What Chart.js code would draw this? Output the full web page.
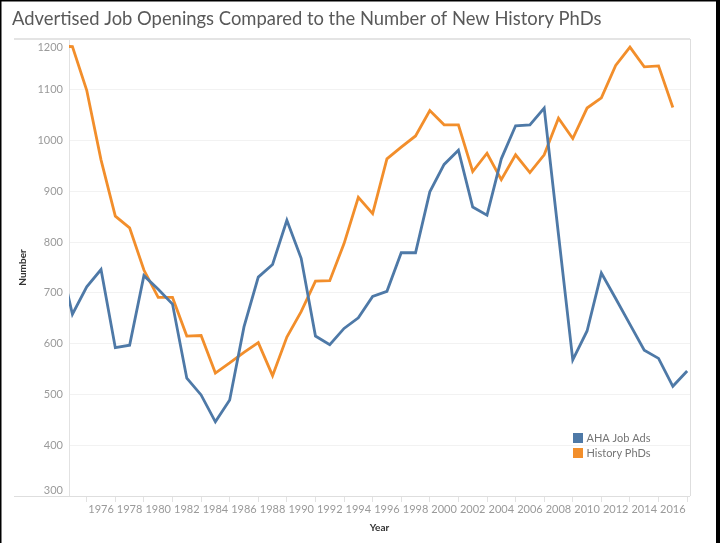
<!DOCTYPE html>
<html>
<head>
<meta charset="utf-8">
<script src="https://cdn.jsdelivr.net/npm/chart.js@4"></script>
<style>
  body { margin: 0; background: #fff; }
  canvas { display: block; }
</style>
</head>
<body>
<canvas id="myChart" width="720" height="543"></canvas>
<script>
const years = [1973, 1974, 1975, 1976, 1977, 1978, 1979, 1980, 1981, 1982,
  1983, 1984, 1985, 1986, 1987, 1988, 1989, 1990, 1991, 1992,
  1993, 1994, 1995, 1996, 1997, 1998, 1999, 2000, 2001, 2002,
  2003, 2004, 2005, 2006, 2007, 2008, 2009, 2010, 2011, 2012,
  2013, 2014, 2015, 2016, 2017];

const jobAds = [780, 658, 712, 746, 592, 597, 734, 707, 678, 532,
  499, 446, 489, 633, 731, 756, 843, 768, 615, 598,
  630, 651, 693, 703, 779, 779, 899, 953, 981, 869,
  853, 964, 1029, 1031, 1064, 815, 568, 625, 739, 689,
  638, 587, 571, 516, 546];

const phds = [1186, 1185, 1099, 962, 851, 828, 745, 691, 691, 615,
  616, 542, 562, 583, 602, 537, 613, 663, 723, 724,
  797, 888, 856, 964, 987, 1009, 1059, 1031, 1031, 939,
  975, 923, 972, 937, 972, 1044, 1004, 1064, 1084, 1148,
  1184, 1145, 1147, 1065, null];

const yearLabels = [1976, 1978, 1980, 1982, 1984, 1986, 1988, 1990, 1992, 1994,
  1996, 1998, 2000, 2002, 2004, 2006, 2008, 2010, 2012, 2014, 2016];
const yTicks = [300, 400, 500, 600, 700, 800, 900, 1000, 1100, 1200];

const FONT = 'Lato, "Open Sans", sans-serif';

// bingkai, label sumbu Y dan legenda digambar sendiri
const extras = {
  id: 'extras',
  beforeDatasetsDraw(chart) {
    const { ctx, chartArea: a } = chart;
    ctx.save();
    ctx.fillStyle = '#e4e4e4';
    ctx.fillRect(14, a.top - 1, a.right - 14, 2);     // garis atas
    ctx.fillStyle = '#dedede';
    ctx.fillRect(14, a.bottom, a.right - 14, 1);     // garis sumbu X
    ctx.fillRect(a.right, a.top, 1, a.bottom - a.top);
    ctx.restore();
  },
  afterDraw(chart) {
    const { ctx, chartArea: a } = chart;
    const y = chart.scales.y;
    ctx.save();
    ctx.font = '11px ' + FONT;
    ctx.fillStyle = '#9a9a9a';
    ctx.textAlign = 'right';
    ctx.textBaseline = 'middle';
    yTicks.forEach(v => {
      let py = y.getPixelForValue(v);
      py = Math.min(Math.max(py, a.top + 8), a.bottom - 6);
      ctx.fillText(String(v), a.left - 6, py);
    });

    // legenda
    const lx = a.right - 117, ly = a.bottom - 63;
    ctx.textAlign = 'left';
    chart.data.datasets.forEach((ds, i) => {
      const ry = ly + i * 15;
      ctx.fillStyle = ds.borderColor;
      ctx.fillRect(lx, ry, 10, 10);
      ctx.fillStyle = '#757575';
      ctx.fillText(ds.label, lx + 13.5, ry + 5.5);
    });

    // border hitam gambar
    ctx.fillStyle = '#000';
    ctx.fillRect(0, 0, 720, 1.5);
    ctx.fillRect(0, 0, 1.5, 543);
    ctx.fillRect(716, 0, 4, 543);
    ctx.restore();
  }
};

const ctx = document.getElementById('myChart').getContext('2d');

new Chart(ctx, {
  type: 'line',
  data: {
    datasets: [{
      label: 'AHA Job Ads',
      data: years.map((yr, i) => ({ x: yr, y: jobAds[i] })),
      borderColor: '#4e79a7',
      borderWidth: 2.8,
      pointRadius: 0,
      tension: 0
    }, {
      label: 'History PhDs',
      data: years.map((yr, i) => ({ x: yr, y: phds[i] })),
      borderColor: '#f28e2b',
      borderWidth: 2.8,
      pointRadius: 0,
      tension: 0
    }]
  },
  options: {
    responsive: false,
    animation: false,
    devicePixelRatio: 1,
    layout: { padding: { left: 12, right: 30, top: 0, bottom: 0 } },
    plugins: {
      legend: { display: false },
      tooltip: { enabled: false },
      title: {
        display: true,
        text: 'Advertised Job Openings Compared to the Number of New History PhDs',
        align: 'start',
        color: '#595959',
        font: { family: FONT, size: 18.4, weight: 'normal' },
        padding: { top: 8.5, bottom: 8.4 }
      }
    },
    scales: {
      x: {
        type: 'linear',
        min: 1973.76,
        max: 2017.2,
        afterBuildTicks: scale => {
          const t = [];
          for (let v = yearLabels[0] - 1; v <= yearLabels[yearLabels.length - 1] + 1; v++) t.push({ value: v });
          scale.ticks = t;
        },
        afterFit: scale => { scale.height = 47; },
        grid: {
          drawOnChartArea: false,
          tickLength: 6,
          color: c => (c.tick && yearLabels.includes(c.tick.value)) ? 'rgba(0,0,0,0)' : '#e2e2e2'
        },
        border: { display: false },
        ticks: {
          autoSkip: false,
          maxRotation: 0,
          padding: 1,
          color: '#9a9a9a',
          font: { family: FONT, size: 11 },
          callback: v => yearLabels.includes(v) ? String(v) : ''
        },
        title: {
          display: true,
          text: 'Year',
          color: '#333',
          font: { family: FONT, size: 10, weight: 'bold' },
          padding: { top: 0, bottom: 9 }
        }
      },
      y: {
        min: 300,
        max: 1200,
        afterFit: scale => { scale.width = 57; },
        ticks: { stepSize: 100, display: false },
        grid: {
          drawTicks: false,
          color: c => (c.tick && (c.tick.value === 300 || c.tick.value === 1200)) ? 'rgba(0,0,0,0)' : '#f2f2f2'
        },
        border: { display: true, color: '#e2e2e2' },
        title: {
          display: true,
          text: 'Number',
          color: '#333',
          font: { family: FONT, size: 10, weight: 'bold' },
          padding: { top: 5, bottom: 0 }
        }
      }
    }
  },
  plugins: [extras]
});
</script>
</body>
</html>
